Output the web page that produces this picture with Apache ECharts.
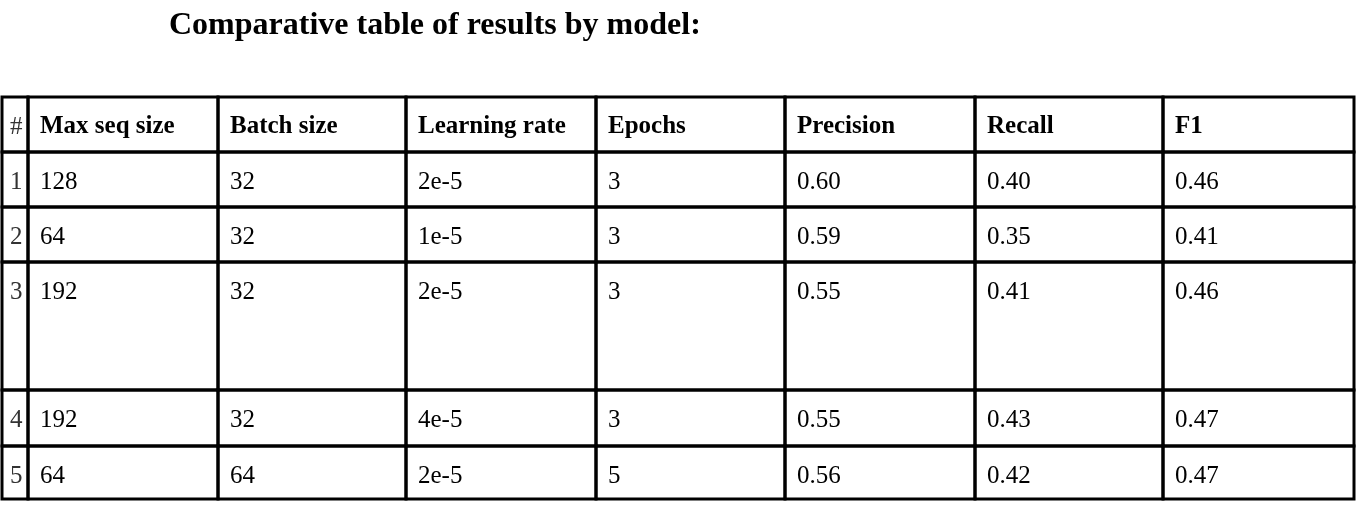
<!DOCTYPE html>
<html>
<head>
<meta charset="utf-8">
<script src="https://cdn.jsdelivr.net/npm/echarts@6/dist/echarts.min.js"></script>
<style>html,body{margin:0;padding:0;background:#fff}#main{width:1359px;height:511px}</style>
</head>
<body>
<div id="main"></div>
<script>
// table content
var headers = ['#', 'Max seq size', 'Batch size', 'Learning rate', 'Epochs', 'Precision', 'Recall', 'F1']
var maxSeq = ['128', '64', '192', '192', '64']
var batchSize = ['32', '32', '32', '32', '64']
var learningRate = ['2e-5', '1e-5', '2e-5', '4e-5', '2e-5']
var epochs = ['3', '3', '3', '3', '5']
var precision = ['0.60', '0.59', '0.55', '0.55', '0.56']
var recall = ['0.40', '0.35', '0.41', '0.43', '0.42']
var f1 = ['0.46', '0.41', '0.46', '0.47', '0.47']

// layout (pixel space of the grid)
var colEdges = [2, 28, 218, 406, 596, 785, 975, 1163, 1354]
var rowEdges = [97, 152, 207, 262, 390, 446, 499]

var cells = []
headers.forEach(function (h, c) { cells.push([c, 0, h, c === 0 ? 0 : 1]) })
for (var r = 0; r < maxSeq.length; r++) {
    var row = [String(r + 1), maxSeq[r], batchSize[r], learningRate[r], epochs[r], precision[r], recall[r], f1[r]]
    row.forEach(function (v, c) { cells.push([c, r + 1, v, 0]) })
}

var chart = echarts.init(document.getElementById('main'))
chart.setOption({
    animation: false,
    title: {
        text: 'Comparative table of results by model:',
        left: 164, top: 5,
        textStyle: {fontFamily: 'Liberation Serif', fontSize: 32, fontWeight: 'bold', color: '#000'}
    },
    grid: {left: 0, right: 0, top: 0, bottom: 0},
    xAxis: {type: 'value', min: 0, max: 1359, show: false},
    yAxis: {type: 'value', min: 0, max: 511, inverse: true, show: false},
    series: [{
        type: 'custom',
        data: cells,
        renderItem: function (params, api) {
            var c = api.value(0), r = api.value(1)
            var item = cells[params.dataIndex]
            var p0 = api.coord([colEdges[c], rowEdges[r]])
            var p1 = api.coord([colEdges[c + 1], rowEdges[r + 1]])
            var pad = c === 0 ? 8 : 12
            return {
                type: 'group',
                children: [{
                    type: 'rect',
                    shape: {x: p0[0], y: p0[1], width: p1[0] - p0[0], height: p1[1] - p0[1]},
                    style: {fill: 'none', stroke: '#000', lineWidth: 3}
                }, {
                    type: 'text',
                    x: p0[0] + pad, y: p0[1] + 30,
                    style: {
                        text: item[2], fill: c === 0 ? '#333' : '#000',
                        font: (item[3] ? 'bold ' : '') + '25px "Liberation Serif"',
                        verticalAlign: 'middle'
                    }
                }]
            }
        }
    }]
})
</script>
</body>
</html>
